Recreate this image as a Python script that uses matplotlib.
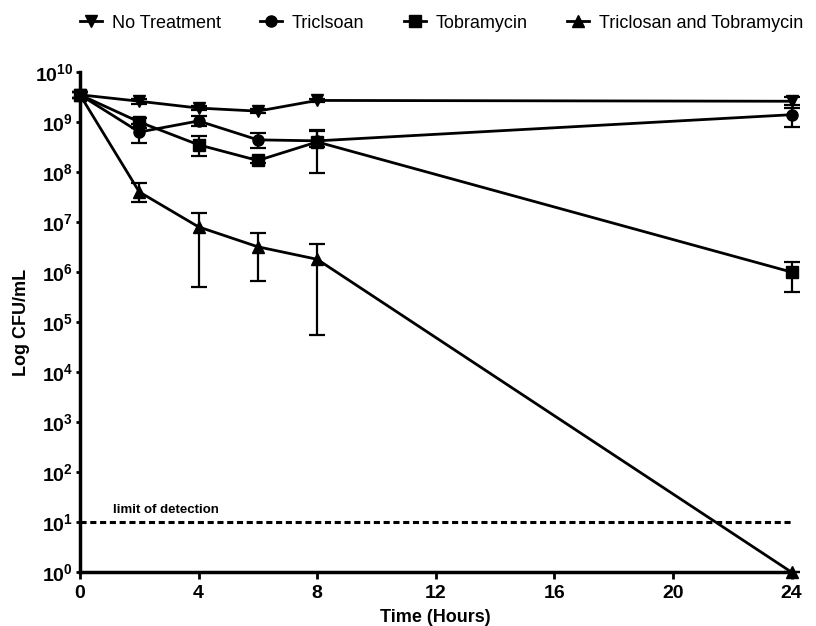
import numpy as np
import matplotlib
matplotlib.use("Agg")
import matplotlib.pyplot as plt
from matplotlib.lines import Line2D
from matplotlib.ticker import FixedLocator, NullLocator

plt.rcParams['font.family'] = ['Liberation Sans', 'DejaVu Sans']
plt.rcParams['font.weight'] = 'bold'

hours = [0, 2, 4, 6, 8, 24]

no_treatment = [3.5e9, 2.6e9, 1.9e9, 1.65e9, 2.7e9, 2.6e9]
no_treatment_lo = [3.0e9, 2.3e9, 1.7e9, 1.5e9, 2.5e9, 2.2e9]
no_treatment_hi = [4.0e9, 2.9e9, 2.1e9, 1.8e9, 2.9e9, 3.1e9]

triclosan = [3.5e9, 6.3e8, 1.05e9, 4.4e8, 4.2e8, 1.4e9]
triclosan_lo = [3.0e9, 3.8e8, 8.5e8, 3.0e8, 3.2e8, 8.0e8]
triclosan_hi = [4.0e9, 9.0e8, 1.3e9, 6.0e8, 6.5e8, 1.9e9]

tobramycin = [3.5e9, 1.0e9, 3.5e8, 1.7e8, 4.0e8, 1.0e6]
tobramycin_lo = [3.0e9, 7.5e8, 2.1e8, 1.5e8, 9.5e7, 4.0e5]
tobramycin_hi = [4.0e9, 1.2e9, 5.2e8, 1.9e8, 7.0e8, 1.6e6]

combo = [3.5e9, 4.0e7, 8.0e6, 3.2e6, 1.8e6, 1.0]
combo_lo = [3.0e9, 2.5e7, 5.0e5, 6.5e5, 5.5e4, 1.0]
combo_hi = [4.0e9, 6.0e7, 1.5e7, 6.0e6, 3.6e6, 1.0]

limit_of_detection = 10
series_names = ['No Treatment', 'Triclsoan', 'Tobramycin', 'Triclosan and Tobramycin']

fig = plt.figure(figsize=(8.16, 6.26), dpi=100)
ax = fig.add_axes([0.098, 0.086, 0.872, 0.799])

series = [
    (no_treatment, no_treatment_lo, no_treatment_hi, 'v'),
    (triclosan, triclosan_lo, triclosan_hi, 'o'),
    (tobramycin, tobramycin_lo, tobramycin_hi, 's'),
    (combo, combo_lo, combo_hi, '^'),
]

handles = []
for (vals, lo, hi, mk), name in zip(series, series_names):
    vals = np.array(vals)
    yerr = [vals - np.array(lo), np.array(hi) - vals]
    ax.errorbar(hours, vals, yerr=yerr, color='black', marker=mk, markersize=8,
                linewidth=2, elinewidth=1.6, capsize=6, capthick=1.6,
                clip_on=False, zorder=3)
    handles.append(Line2D([], [], color='black', marker=mk, markersize=8,
                          linewidth=2, label=name))

ax.axhline(limit_of_detection, color='black', linestyle=(0, (2, 1.2)), linewidth=2.2)
ax.text(1.1, 15, 'limit of detection', fontsize=9.5, fontweight='bold', va='baseline')

ax.set_yscale('log')
ax.set_xlim(0, 24)
ax.set_ylim(1, 1e10)
ax.set_xticks([0, 4, 8, 12, 16, 20, 24])
ax.yaxis.set_major_locator(FixedLocator([10.0 ** k for k in range(11)]))
ax.yaxis.set_minor_locator(NullLocator())
ax.tick_params(axis='both', labelsize=14, width=2, direction='out')
ax.tick_params(axis='x', length=5, pad=4)
ax.tick_params(axis='y', length=3, pad=2)

for lab in ax.get_xticklabels() + ax.get_yticklabels():
    lab.set_fontweight('bold')

for side in ['top', 'right']:
    ax.spines[side].set_visible(False)
for side in ['left', 'bottom']:
    ax.spines[side].set_linewidth(2.5)

ax.set_xlabel('Time (Hours)', fontsize=13, fontweight='bold', labelpad=5)
ax.set_ylabel('Log CFU/mL', fontsize=13, fontweight='bold', labelpad=3)

leg = fig.legend(handles=handles, loc='center left', bbox_to_anchor=(0.098, 1 - 23 / 626),
                 ncol=4, frameon=False, fontsize=13, handlelength=1.2, columnspacing=2.2,
                 handletextpad=0.55, borderpad=0, borderaxespad=0)
for t in leg.get_texts():
    t.set_fontweight('normal')

fig.savefig('out.png', dpi=100)
